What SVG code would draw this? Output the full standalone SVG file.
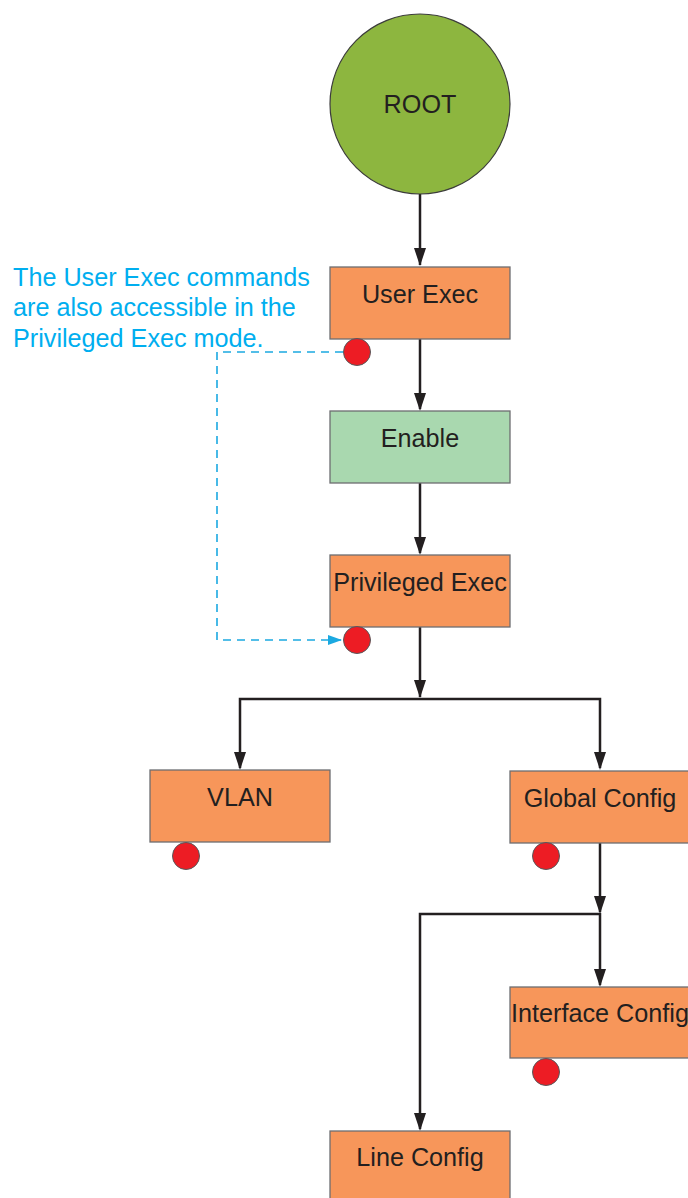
<svg xmlns="http://www.w3.org/2000/svg" width="688" height="1198" viewBox="0 0 688 1198">
<style>
.box{fill:#F7965A;stroke:#6D6E71;stroke-width:1.3}
.en{fill:#A9D8AF;stroke:#6D6E71;stroke-width:1.3}
.lbl{font-family:"Liberation Sans",Arial,sans-serif;font-size:25.2px;fill:#231F20;text-anchor:middle}
.note{font-family:"Liberation Sans",Arial,sans-serif;font-size:25.2px;fill:#00AEEF}
.dot{fill:#ED1C24;stroke:#58595B;stroke-width:1}
.conn{fill:none;stroke:#231F20;stroke-width:2.5}
.head{fill:#231F20}
.dash{fill:none;stroke:#1BA9E1;stroke-width:1.6;stroke-dasharray:8 6}
</style>
<defs>
<marker id="ahb" markerUnits="userSpaceOnUse" markerWidth="14" markerHeight="10" viewBox="0 0 14 10" refX="13" refY="5" orient="auto">
<path d="M0,0 L14,5 L0,10 Z" fill="#1BA9E1"/>
</marker>
</defs>
<g id="connectors">
<path class="conn" d="M420,194 V265"/>
<path class="conn" d="M420,339 V409"/>
<path class="conn" d="M420,483 V553"/>
<path class="conn" d="M420,627 V697"/>
<path class="conn" d="M240,768 V699 H600 V768"/>
<path class="conn" d="M600,843 V912"/>
<path class="conn" d="M420,1129 V914 H600 V985"/>
<path class="head" d="M414,248 L426,248 L420,266 Z"/>
<path class="head" d="M414,393 L426,393 L420,411 Z"/>
<path class="head" d="M414,537 L426,537 L420,555 Z"/>
<path class="head" d="M414,680 L426,680 L420,698 Z"/>
<path class="head" d="M234,752 L246,752 L240,770 Z"/>
<path class="head" d="M594,752 L606,752 L600,770 Z"/>
<path class="head" d="M594,896 L606,896 L600,914 Z"/>
<path class="head" d="M594,969 L606,969 L600,987 Z"/>
<path class="head" d="M414,1113 L426,1113 L420,1131 Z"/>
<path class="dash" d="M343,352 H217 V640 H341" marker-end="url(#ahb)"/>
</g>
<g id="note">
<text class="note" x="13" y="286">The User Exec commands</text>
<text class="note" x="13" y="316">are also accessible in the</text>
<text class="note" x="13" y="347">Privileged Exec mode.</text>
</g>
<g id="root">
<circle cx="420" cy="104" r="90" fill="#8DB63F" stroke="#3C3C3C" stroke-width="1.2"/>
<text class="lbl" x="420" y="113">ROOT</text>
</g>
<g id="user-exec">
<rect class="box" x="330" y="267" width="180" height="72"/>
<text class="lbl" x="420" y="303">User Exec</text>
<circle class="dot" cx="357" cy="352" r="13.5"/>
</g>
<g id="enable">
<rect class="en" x="330" y="411" width="180" height="72"/>
<text class="lbl" x="420" y="447">Enable</text>
</g>
<g id="privileged-exec">
<rect class="box" x="330" y="555" width="180" height="72"/>
<text class="lbl" x="420" y="591">Privileged Exec</text>
<circle class="dot" cx="357" cy="640" r="13.5"/>
</g>
<g id="vlan">
<rect class="box" x="150" y="770" width="180" height="72"/>
<text class="lbl" x="240" y="806">VLAN</text>
<circle class="dot" cx="186" cy="856" r="13.5"/>
</g>
<g id="global-config">
<rect class="box" x="510" y="771" width="180" height="72"/>
<text class="lbl" x="600" y="807">Global Config</text>
<circle class="dot" cx="546" cy="856" r="13.5"/>
</g>
<g id="interface-config">
<rect class="box" x="510" y="987" width="180" height="71"/>
<text class="lbl" x="600" y="1022">Interface Config</text>
<circle class="dot" cx="546" cy="1072" r="13.5"/>
</g>
<g id="line-config">
<rect class="box" x="330" y="1131" width="180" height="72"/>
<text class="lbl" x="420" y="1166">Line Config</text>
</g>
</svg>
